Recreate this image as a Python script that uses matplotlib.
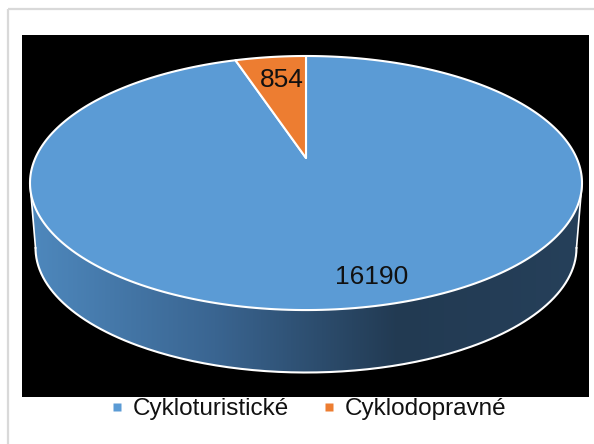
import numpy as np
import matplotlib.pyplot as plt
from matplotlib.patches import Polygon, Rectangle
from matplotlib.lines import Line2D
from matplotlib.colors import LinearSegmentedColormap

categories = ["Cykloturistické", "Cyklodopravné"]
values = [16190, 854]
colors = ["#5b9bd5", "#ed7d31"]

W, H = 594, 444
fig = plt.figure(figsize=(W / 100, H / 100), dpi=100)
ax = fig.add_axes([0, 0, 1, 1])
ax.set_xlim(0, W)
ax.set_ylim(H, 0)
ax.axis("off")

# outer frame and black plot area
ax.add_patch(Rectangle((8, 9), 620, 460, fill=False, ec="#d9d9d9", lw=1.6))
ax.add_patch(Rectangle((22, 35), 567, 362, fc="black", ec="none"))

# perspective view of the pie disk (u right, v away from viewer)
cx, cy, A, B, k = 306, 158, 270.6, 122.1, 0.197


def proj(u, v, dy=0, s=1.0):
    w = 1 + k * v
    return cx + s * A * u / w, cy + dy - s * B * v / w


def ellipse_front(dy=0, s=1.0):
    # silhouette of the projected disk, front half
    ecy = cy + dy + s * B * k / (1 - k ** 2)
    ea = s * A / np.sqrt(1 - k ** 2)
    eb = s * B / (1 - k ** 2)
    t = np.linspace(0, np.pi, 200)
    return np.column_stack([cx + ea * np.cos(t), ecy + eb * np.sin(t)])


# side of the cylinder
top = ellipse_front()
bot = ellipse_front(dy=65.5, s=0.98)
side = Polygon(np.vstack([top, bot[::-1]]), closed=True, fc="none", ec="none")
ax.add_patch(side)
cmap = LinearSegmentedColormap.from_list("side", ["#4e88bd", "#3a6591", "#223a52", "#26405a"])
grad = np.linspace(0, 1, 256)[None, :]
im = ax.imshow(grad, extent=[top[-1, 0], top[0, 0], 400, 150], cmap=cmap,
               aspect="auto", zorder=2)
im.set_clip_path(side)
ax.plot(bot[:, 0], bot[:, 1], color="white", lw=1.5, zorder=3)
ax.plot([top[0, 0], bot[0, 0]], [top[0, 1], bot[0, 1]], color="white", lw=1.2, zorder=3)
ax.plot([top[-1, 0], bot[-1, 0]], [top[-1, 1], bot[-1, 1]], color="white", lw=1.2, zorder=3)

# top face slices, clockwise from 12 o'clock
total = sum(values)
start = 90.0
mids = []
for val, col in zip(values, colors):
    span = val / total * 360
    a = np.radians(np.linspace(start - span, start, 300))
    xs, ys = proj(np.cos(a), np.sin(a))
    pts = np.vstack([[cx, cy], np.column_stack([xs, ys])])
    ax.add_patch(Polygon(pts, closed=True, fc=col, ec="white", lw=1.5,
                         joinstyle="round", zorder=4))
    mids.append(start - span / 2)
    start -= span

# data labels
label_r = [0.84, 0.74]
label_turn = [5, -1]
for val, m, r, d in zip(values, mids, label_r, label_turn):
    a = np.radians(m + d)
    lx, ly = proj(r * np.cos(a), r * np.sin(a))
    ax.text(lx, ly, str(val), ha="center", va="center", fontsize=19,
            family="Liberation Sans", color="#111111", zorder=5)

ax.set_xlim(0, W)
ax.set_ylim(H, 0)

handles = [Line2D([], [], marker="s", ls="none", markersize=6, mfc=c, mec="none") for c in colors]
fig.legend(handles, categories, loc="center", bbox_to_anchor=(309 / W, 1 - 409 / H),
           ncol=2, frameon=False, handlelength=0.4, handletextpad=0.45, columnspacing=1.45,
           prop={"family": "Liberation Sans", "size": 17.5}, labelcolor="#111111")

fig.savefig("out.png", dpi=100)
